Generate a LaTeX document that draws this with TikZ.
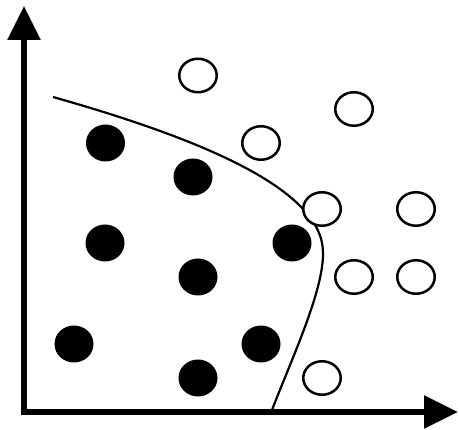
\documentclass[tikz,border=0pt]{standalone}
\usetikzlibrary{arrows.meta,shapes.geometric}
\begin{document}
\begin{tikzpicture}[x=1pt,y=-1pt,
  fulldot/.style={ellipse,fill=black,minimum width=39pt,minimum height=37pt,inner sep=0pt},
  opendot/.style={ellipse,draw=black,line width=2.5pt,fill=white,minimum width=37.5pt,minimum height=33.5pt,inner sep=0pt},
  axis/.style={line width=5.5pt,line join=miter,{Triangle[length=34pt,width=32pt]}-{Triangle[length=34pt,width=32pt]}},
  boundary/.style={line width=2.2pt}]
\useasboundingbox (0,0) rectangle (459,430);
\coordinate (ytip) at (24,6);
\coordinate (orig) at (24,412);
\coordinate (xtip) at (458,412);
\draw[axis] (ytip) -- (orig) -- (xtip);
% filled
\node[fulldot] (f1) at (105.5,143) {};
\node[fulldot] (f2) at (193,177) {};
\node[fulldot] (f3) at (105,243) {};
\node[fulldot] (f4) at (292,243) {};
\node[fulldot] (f5) at (198,277) {};
\node[fulldot] (f6) at (74,344) {};
\node[fulldot] (f7) at (261,344) {};
\node[fulldot] (f8) at (198,378) {};
% boundary
\coordinate (bstart) at (53,97);
\coordinate (bmid) at (323,252);
\coordinate (bend) at (272,410);
\draw[boundary] (bstart) .. controls (205,140) and (322,190) .. (bmid)
  .. controls (324,290) and (292,358) .. (bend);
% open
\node[opendot] (o1) at (198,75.5) {};
\node[opendot] (o2) at (354,109) {};
\node[opendot] (o3) at (261,143) {};
\node[opendot] (o4) at (322,209) {};
\node[opendot] (o5) at (416,209) {};
\node[opendot] (o6) at (354,277) {};
\node[opendot] (o7) at (416,277) {};
\node[opendot] (o8) at (322,378) {};
\end{tikzpicture}
\end{document}
